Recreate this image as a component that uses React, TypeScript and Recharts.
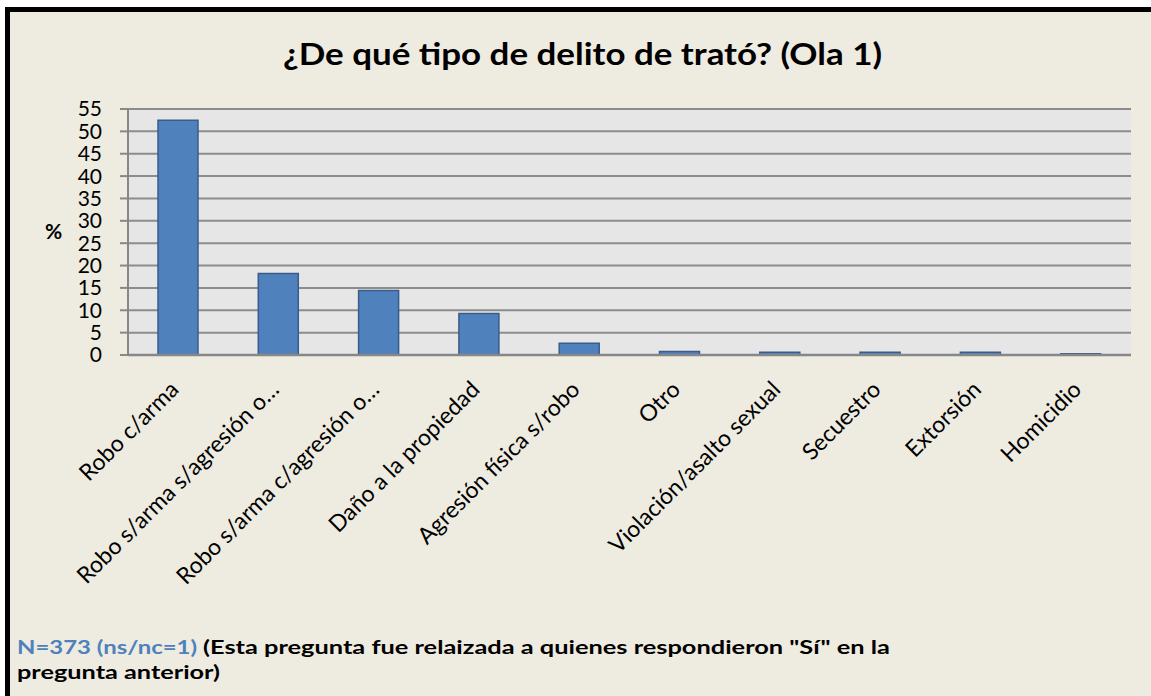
import React from 'react';
import { BarChart, Bar, XAxis, YAxis, CartesianGrid } from 'recharts';

const categories = [
  'Robo c/arma',
  'Robo s/arma s/agresión o…',
  'Robo s/arma c/agresión o…',
  'Daño a la propiedad',
  'Agresión física s/robo',
  'Otro',
  'Violación/asalto sexual',
  'Secuestro',
  'Extorsión',
  'Homicidio',
];
const values = [52.5, 18.2, 14.4, 9.3, 2.6, 0.8, 0.6, 0.6, 0.6, 0.3];
const yTicks = [0, 5, 10, 15, 20, 25, 30, 35, 40, 45, 50, 55];

const titleText = '¿De qué tipo de delito de trató? (Ola 1)';
const noteBlue = 'N=373 (ns/nc=1)';
const noteBlack = '(Esta pregunta fue relaizada a quienes respondieron "Sí" en la';
const noteLine2 = 'pregunta anterior)';

const data = categories.map((name, i) => ({ name, value: values[i] }));

const FONT = "Lato, 'Open Sans', sans-serif";
const BG = '#EEEBE0';

const XTick = (props: any) => {
  const { x, payload } = props;
  const ax = x + 2;
  const ay = 391;
  return (
    <text
      x={ax}
      y={ay}
      transform={`rotate(-45, ${ax}, ${ay})`}
      textAnchor="end"
      fontSize={23}
      fontFamily={FONT}
      fill="#000"
    >
      {payload.value}
    </text>
  );
};

export default function App() {
  return (
    <div
      style={{
        position: 'fixed',
        left: 0,
        top: 0,
        width: 1151,
        height: 696,
        overflow: 'hidden',
        background: '#fff',
      }}
    >
      <div
        style={{
          position: 'absolute',
          left: 5,
          top: 7,
          width: 1300,
          height: 800,
          borderTop: '5px solid #000',
          borderLeft: '5px solid #000',
          background: BG,
        }}
      />
      <div style={{ position: 'absolute', left: 0, top: 0 }}>
        <BarChart
          width={1151}
          height={620}
          data={data}
          margin={{ top: 109, right: 20, bottom: 0, left: 0 }}
          barCategoryGap={0}
        >
          <CartesianGrid
            vertical={false}
            horizontal={true}
            fill="#E6E6E6"
            stroke="#8C8C8C"
            strokeWidth={2}
          />
          <XAxis
            dataKey="name"
            height={265}
            interval={0}
            tickLine={false}
            axisLine={{ stroke: '#878787', strokeWidth: 2.5 }}
            tick={<XTick />}
          />
          <YAxis
            width={128}
            domain={[0, 55]}
            ticks={yTicks}
            interval={0}
            tickSize={8}
            tickMargin={18}
            axisLine={{ stroke: '#878787', strokeWidth: 2 }}
            tickLine={{ stroke: '#878787', strokeWidth: 2 }}
            tick={{ fontSize: 21, fill: '#000', fontFamily: FONT }}
            label={{
              value: '%',
              position: 'insideLeft',
              offset: 45,
              style: { fontSize: 21, fontWeight: 700, fill: '#000', fontFamily: FONT },
            }}
          />
          <Bar
            dataKey="value"
            fill="#4F81BD"
            stroke="#385D8A"
            strokeWidth={1.5}
            barSize={40}
            isAnimationActive={false}
          />
        </BarChart>
      </div>
      <svg
        width={1151}
        height={696}
        style={{ position: 'absolute', left: 0, top: 0, pointerEvents: 'none' }}
      >
        <text
          x={283}
          y={65}
          fontFamily={FONT}
          fontWeight={700}
          fontSize={30}
          fill="#000"
          textLength={599}
          lengthAdjust="spacingAndGlyphs"
        >
          {titleText}
        </text>
        <text
          x={17}
          y={654}
          fontFamily={FONT}
          fontWeight={700}
          fontSize={19}
          fill="#4F81BD"
          textLength={180}
          lengthAdjust="spacingAndGlyphs"
        >
          {noteBlue}
        </text>
        <text
          x={203}
          y={654}
          fontFamily={FONT}
          fontWeight={700}
          fontSize={19}
          fill="#000"
          textLength={687}
          lengthAdjust="spacingAndGlyphs"
        >
          {noteBlack}
        </text>
        <text
          x={17}
          y={679}
          fontFamily={FONT}
          fontWeight={700}
          fontSize={19}
          fill="#000"
          textLength={203}
          lengthAdjust="spacingAndGlyphs"
        >
          {noteLine2}
        </text>
      </svg>
    </div>
  );
}
